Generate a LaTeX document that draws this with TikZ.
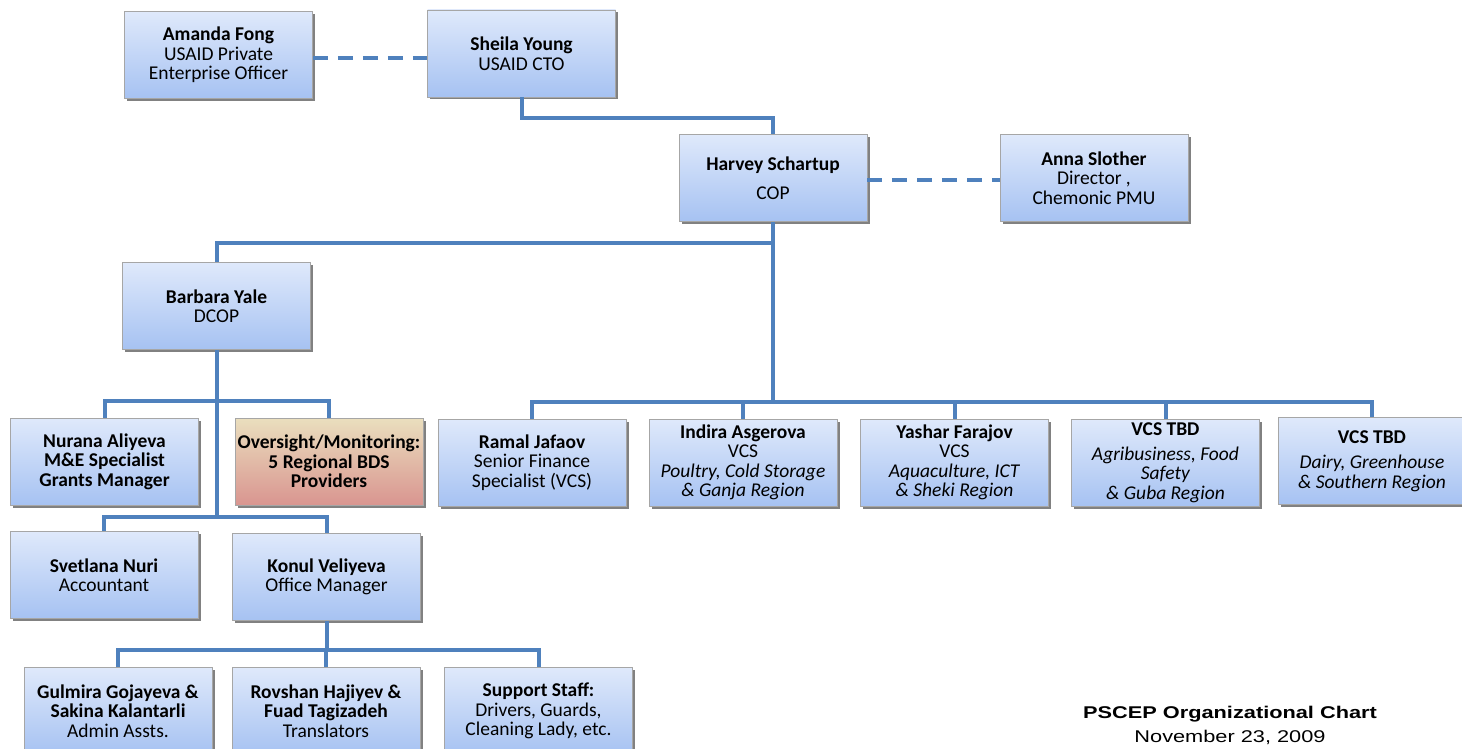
\documentclass[tikz,border=0pt]{standalone}
\usepackage{fontspec}
\setmainfont{Carlito}
\newfontfamily\titlefont{Liberation Sans}
\usetikzlibrary{shadows}
\definecolor{linec}{HTML}{4F81BD}
\definecolor{boxtop}{HTML}{DFE9FB}
\definecolor{boxbot}{HTML}{A6C2F2}
\definecolor{tantop}{HTML}{EADFBE}
\definecolor{tanbot}{HTML}{D99590}
\begin{document}
\begin{tikzpicture}[x=1pt,y=-1pt,
  box/.style={draw=black!35, line width=0.8pt, top color=boxtop, bottom color=boxbot,
    minimum width=188pt, minimum height=87pt, inner sep=0pt, align=center,
    font=\fontsize{19.5}{19.5}\selectfont,
    drop shadow={shadow xshift=2.5pt, shadow yshift=-2.5pt, fill=black!55, opacity=0.9}},
  tanbox/.style={box, top color=tantop, bottom color=tanbot},
  conn/.style={draw=linec, line width=4pt},
  dashconn/.style={draw=linec, line width=4pt, dash pattern=on 15pt off 10pt},
  titlenode/.style={align=center, inner sep=0pt, font=\titlefont\fontsize{17}{24}\selectfont}]
\useasboundingbox (0,0) rectangle (1462,749);

% nodes
\node[box] (amanda) at (218.5,55) {\textbf{Amanda Fong}\\USAID Private\\Enterprise Officer};
\node[box] (sheila) at (521.5,53.5) {\textbf{Sheila Young}\\USAID CTO};
\node[box] (harvey) at (773,178) {\textbf{Harvey Schartup}\\[9pt]COP};
\node[box] (anna) at (1094,178) {\textbf{Anna Slother}\\Director ,\\Chemonic PMU};
\node[box] (barbara) at (216.5,306) {\textbf{Barbara Yale}\\DCOP};
\node[box] (nurana) at (104.5,461.5) {\textbf{Nurana Aliyeva}\\\textbf{M\&E Specialist}\\\textbf{Grants Manager}};
\node[tanbox] (oversight) at (329,461.5) {\textbf{Oversight/Monitoring:}\\\textbf{5 Regional BDS}\\\textbf{Providers}};
\node[box] (ramal) at (532,462.5) {\textbf{Ramal Jafaov}\\Senior Finance\\Specialist (VCS)};
\node[box] (indira) at (743,462.5) {\textbf{Indira Asgerova}\\VCS\\\textit{Poultry, Cold Storage}\\\textit{\& Ganja Region}};
\node[box] (yashar) at (954.5,462.5) {\textbf{Yashar Farajov}\\VCS\\\textit{Aquaculture, ICT}\\\textit{\& Sheki Region}};
\node[box] (tbda) at (1165.5,463) {\textbf{VCS TBD}\\[5pt]\textit{Agribusiness, Food}\\\textit{Safety}\\\textit{\& Guba Region}};
\node[box] (tbdb) at (1372,461) {\textbf{VCS TBD}\\[6pt]\textit{Dairy, Greenhouse}\\\textit{\& Southern Region}};
\node[box] (svetlana) at (104,575) {\textbf{Svetlana Nuri}\\Accountant};
\node[box] (konul) at (326.5,577) {\textbf{Konul Veliyeva}\\Office Manager};
\node[box] (gulmira) at (118,711) {\textbf{Gulmira Gojayeva \&}\\\textbf{Sakina Kalantarli}\\Admin Assts.};
\node[box] (rovshan) at (326,711) {\textbf{Rovshan Hajiyev \&}\\\textbf{Fuad Tagizadeh}\\Translators};
\node[box] (support) at (538.5,711) {\textbf{Support Staff:}\\Drivers, Guards,\\Cleaning Lady, etc.};

\node[titlenode] (title) at (1230,725)
  {\scalebox{1.28}[1]{\textbf{PSCEP Organizational Chart}}\\\scalebox{1.28}[1]{November 23, 2009}};

% bus coordinates
\coordinate (busA) at (0,118);
\coordinate (busB) at (0,243);
\coordinate (busC) at (0,402);
\coordinate (busD) at (0,401);
\coordinate (busE) at (0,517);
\coordinate (busF) at (0,650);

% dashed links
\draw[dashconn] (amanda.east |- 0,58) -- (sheila.west |- 0,58);
\draw[dashconn] (harvey.east |- 0,180) -- (anna.west |- 0,180);

% solid links
\draw[conn] (sheila.south) -- (sheila.south |- busA) -| (harvey.north);
\draw[conn] (harvey.south) -- (harvey.south |- busC);
\draw[conn] (harvey.south |- busB) -| (barbara.north);
\draw[conn] (ramal.north) -- (ramal.north |- busC) -- (tbdb.north |- busC) -- (tbdb.north);
\draw[conn] (indira.north) -- (indira.north |- busC);
\draw[conn] (yashar.north) -- (yashar.north |- busC);
\draw[conn] (tbda.north) -- (tbda.north |- busC);

\draw[conn] (barbara.south) -- (barbara.south |- busE);
\draw[conn] (nurana.north) -- (nurana.north |- busD) -| (oversight.north);
\draw[conn] (svetlana.north) -- (svetlana.north |- busE) -| (konul.north);

\draw[conn] (konul.south) -- (konul.south |- busF);
\draw[conn] (gulmira.north) -- (gulmira.north |- busF) -| (support.north);
\draw[conn] (rovshan.north) -- (rovshan.north |- busF);
\end{tikzpicture}
\end{document}
